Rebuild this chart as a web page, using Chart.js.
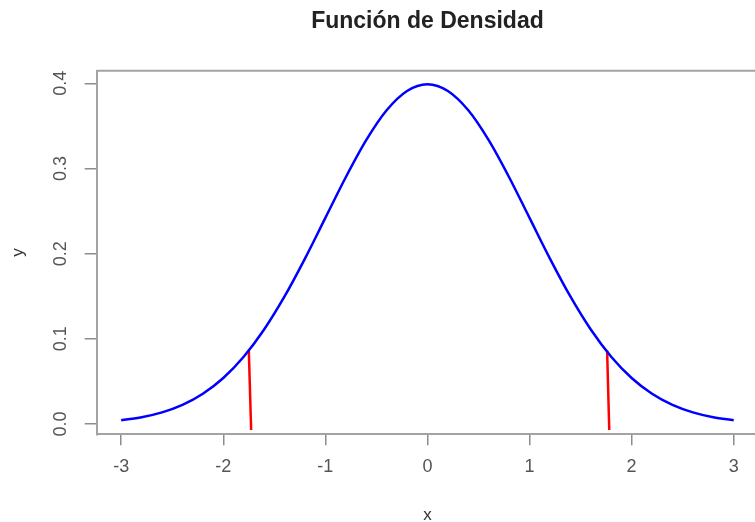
<!DOCTYPE html>
<html>
<head>
<meta charset="utf-8">
<script src="https://cdn.jsdelivr.net/npm/chart.js@4.4.1/dist/chart.umd.min.js"></script>
<style>
  html, body { margin: 0; padding: 0; background: #fff; overflow: hidden; }
  #wrap { position: relative; width: 770px; height: 522px; }
</style>
</head>
<body>
<div id="wrap"><canvas id="c"></canvas></div>
<script>
// ---- data ----
const titleText = 'Función de Densidad';
const xLabel = 'x';
const yLabel = 'y';
const xTicks = [-3, -2, -1, 0, 1, 2, 3];
const yTicks = [0.0, 0.1, 0.2, 0.3, 0.4];
const curveX = [-3.0, -2.8, -2.6, -2.4, -2.2, -2.0, -1.8, -1.6, -1.4, -1.2, -1.0, -0.8, -0.6, -0.4, -0.2, 0.0,
                0.2, 0.4, 0.6, 0.8, 1.0, 1.2, 1.4, 1.6, 1.8, 2.0, 2.2, 2.4, 2.6, 2.8, 3.0];
const curveY = [0.0044, 0.0079, 0.0136, 0.0224, 0.0355, 0.0540, 0.0790, 0.1109, 0.1497, 0.1942, 0.2420, 0.2897, 0.3332, 0.3683, 0.3910, 0.3989,
                0.3910, 0.3683, 0.3332, 0.2897, 0.2420, 0.1942, 0.1497, 0.1109, 0.0790, 0.0540, 0.0355, 0.0224, 0.0136, 0.0079, 0.0044];
// red cut lines: top end (on the curve) and bottom end
const cutTopX = [-1.75, 1.76];
const cutTopY = [0.0863, 0.0863];
const cutBottomX = [-1.727, 1.781];
const cutBottomY = [-0.007, -0.007];
// plotting range (R style 4% extension)
const xRange = [-3.24, 3.24];
const yRange = [-0.0121, 0.4148];

const FONT = '"Liberation Sans", Arial, Helvetica, sans-serif';
const AXIS_COL = '#a3a3a3';
const TICK_TXT = '#555555';

const curveData = curveX.map((x, i) => ({ x: x, y: curveY[i] }));
const cutDatasets = cutTopX.map((x, i) => ({
  data: [{ x: x, y: cutTopY[i] }, { x: cutBottomX[i], y: cutBottomY[i] }],
  borderColor: '#ff0000',
  borderWidth: 2.5,
  pointRadius: 0,
  showLine: true,
  tension: 0
}));

const framePlugin = {
  id: 'frame',
  afterDraw(chart) {
    const ctx = chart.ctx;
    const a = chart.chartArea;
    const ys = chart.scales.y;
    ctx.save();
    // box (top & right sides; left & bottom come from the axes borders)
    ctx.strokeStyle = AXIS_COL;
    ctx.lineWidth = 2;
    ctx.beginPath();
    ctx.moveTo(a.left, a.top);
    ctx.lineTo(a.right, a.top);
    ctx.lineTo(a.right, a.bottom);
    ctx.stroke();
    // main title, centred over the plot region
    ctx.fillStyle = '#222222';
    ctx.font = 'bold 23px ' + FONT;
    ctx.textAlign = 'center';
    ctx.textBaseline = 'middle';
    ctx.fillText(titleText, (a.left + a.right) / 2, 22);
    // rotated y tick labels
    ctx.fillStyle = TICK_TXT;
    ctx.font = '18px ' + FONT;
    yTicks.forEach(v => {
      const py = ys.getPixelForValue(v);
      ctx.save();
      ctx.translate(61, py);
      ctx.rotate(-Math.PI / 2);
      ctx.fillText(v.toFixed(1), 0, 0);
      ctx.restore();
    });
    ctx.restore();
  }
};

new Chart(document.getElementById('c'), {
  type: 'scatter',
  data: {
    datasets: [
      {
        data: curveData,
        borderColor: '#0000ff',
        borderWidth: 2.5,
        pointRadius: 0,
        showLine: true,
        cubicInterpolationMode: 'monotone',
        tension: 0.4
      },
      ...cutDatasets
    ]
  },
  options: {
    responsive: true,
    maintainAspectRatio: false,
    animation: false,
    devicePixelRatio: 1,
    layout: { padding: { left: 0, right: 11.8, top: 70.7, bottom: 0 } },
    plugins: {
      legend: { display: false },
      tooltip: { enabled: false },
      title: { display: false }
    },
    scales: {
      x: {
        type: 'linear',
        min: xRange[0],
        max: xRange[1],
        afterBuildTicks: s => { s.ticks = xTicks.map(v => ({ value: v })); },
        afterFit: s => { s.height = 522 - 434.3; },
        grid: { display: true, drawOnChartArea: false, drawTicks: true, tickLength: 11, color: '#8c8c8c', lineWidth: 1.5 },
        border: { display: true, color: AXIS_COL, width: 2 },
        ticks: { color: TICK_TXT, font: { family: FONT, size: 18 }, padding: 11.4, maxRotation: 0, autoSkip: false },
        title: { display: true, text: xLabel, color: '#333333', font: { family: FONT, size: 17, lineHeight: 0.8 }, padding: { top: 0, bottom: 0 } }
      },
      y: {
        type: 'linear',
        min: yRange[0],
        max: yRange[1],
        afterBuildTicks: s => { s.ticks = yTicks.map(v => ({ value: v })); },
        afterFit: s => { s.width = 96.7; },
        grid: { display: true, drawOnChartArea: false, drawTicks: true, tickLength: 12, color: '#8c8c8c', lineWidth: 1.5 },
        border: { display: true, color: AXIS_COL, width: 2 },
        ticks: { display: false },
        title: { display: true, text: yLabel, color: '#333333', font: { family: FONT, size: 17 }, padding: { top: 8, bottom: 0 } }
      }
    }
  },
  plugins: [framePlugin]
});
</script>
</body>
</html>
